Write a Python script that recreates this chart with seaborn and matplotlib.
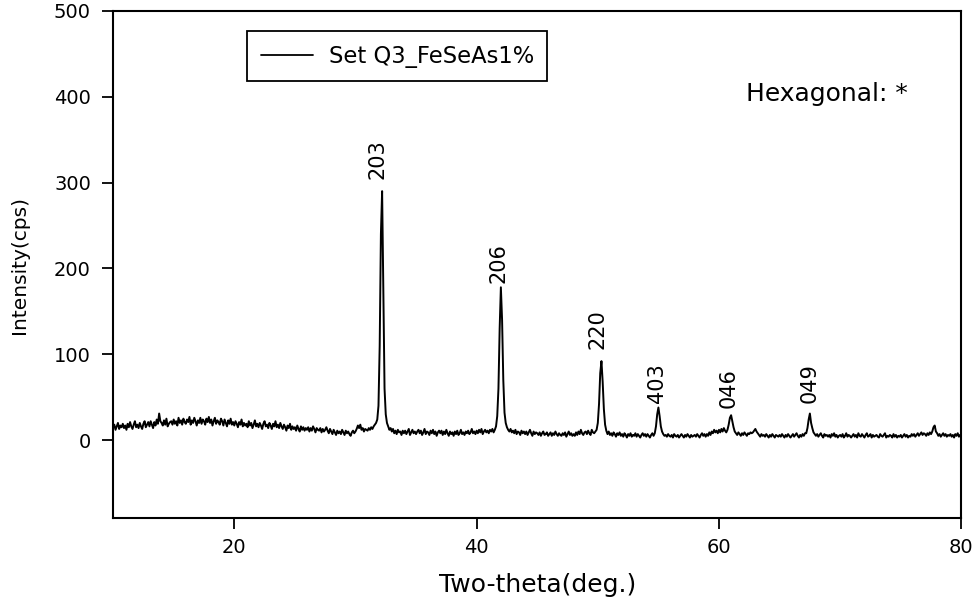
import numpy as np
import pandas as pd
import matplotlib
matplotlib.use("Agg")
import matplotlib.pyplot as plt
import seaborn as sns

# ---- data (0.1 deg steps from 10 to 80) ----
two_theta_start = 10.0
two_theta_step = 0.1
intensity_rows = [
    [14, 18, 12, 16, 20, 13, 17, 15, 19, 14],   # 10
    [17, 12, 19, 15, 21, 16, 13, 18, 22, 15],   # 11
    [18, 14, 20, 16, 13, 19, 22, 15, 18, 21],   # 12
    [16, 22, 18, 14, 21, 17, 24, 19, 31, 22],   # 13
    [20, 17, 23, 18, 25, 16, 19, 21, 22, 18],   # 14
    [24, 19, 22, 17, 26, 20, 23, 18, 25, 21],   # 15
    [19, 24, 21, 27, 18, 23, 20, 26, 22, 17],   # 16
    [23, 20, 26, 19, 24, 22, 18, 25, 21, 27],   # 17
    [20, 24, 17, 22, 26, 19, 23, 21, 18, 25],   # 18
    [22, 17, 24, 20, 16, 23, 19, 25, 18, 21],   # 19
    [17, 22, 19, 15, 21, 18, 24, 16, 20, 17],   # 20
    [19, 15, 22, 17, 20, 14, 18, 23, 16, 19],   # 21
    [15, 20, 17, 13, 19, 22, 16, 18, 14, 20],   # 22
    [17, 13, 19, 16, 22, 15, 18, 14, 20, 16],   # 23
    [13, 18, 15, 11, 17, 14, 19, 12, 16, 13],   # 24
    [15, 11, 17, 13, 10, 16, 12, 15, 11, 14],   # 25
    [12, 15, 10, 14, 11, 16, 13, 9, 14, 12],    # 26
    [11, 14, 9, 13, 10, 12, 15, 11, 8, 13],     # 27
    [10, 7, 12, 9, 6, 11, 8, 10, 7, 12],        # 28
    [9, 6, 11, 8, 10, 7, 5, 9, 11, 8],          # 29
    [10, 13, 17, 14, 18, 12, 14, 10, 13, 12],   # 30
    [11, 14, 12, 15, 13, 16, 18, 20, 24, 40],   # 31
    [110, 240, 290, 170, 60, 30, 20, 16, 12, 14],  # 32
    [10, 13, 8, 11, 7, 12, 9, 10, 6, 11],       # 33
    [8, 11, 7, 10, 13, 6, 9, 12, 8, 10],        # 34
    [7, 10, 12, 8, 11, 6, 9, 13, 7, 10],        # 35
    [9, 6, 11, 8, 12, 7, 10, 5, 9, 11],         # 36
    [8, 11, 6, 10, 7, 12, 8, 5, 10, 7],         # 37
    [9, 5, 10, 7, 11, 6, 8, 12, 7, 9],          # 38
    [6, 10, 8, 11, 7, 9, 13, 8, 10, 7],         # 39
    [11, 8, 12, 9, 13, 7, 10, 12, 9, 11],       # 40
    [8, 12, 10, 13, 9, 12, 16, 28, 60, 130],    # 41
    [178, 140, 70, 32, 20, 15, 12, 10, 13, 9],  # 42
    [11, 8, 12, 7, 10, 9, 6, 11, 8, 10],        # 43
    [7, 10, 6, 9, 12, 8, 5, 10, 7, 9],          # 44
    [8, 6, 9, 5, 8, 10, 6, 7, 9, 5],            # 45
    [7, 9, 5, 8, 6, 10, 7, 5, 8, 6],            # 46
    [5, 8, 6, 9, 4, 7, 10, 6, 8, 5],            # 47
    [7, 5, 9, 6, 10, 7, 12, 8, 6, 9],           # 48
    [10, 7, 11, 8, 6, 12, 9, 8, 10, 12],        # 49
    [20, 42, 78, 92, 68, 36, 18, 11, 7, 10],    # 50
    [6, 8, 5, 9, 7, 4, 8, 6, 9, 5],             # 51
    [7, 4, 8, 6, 3, 7, 5, 8, 4, 6],             # 52
    [5, 8, 4, 7, 5, 3, 6, 8, 5, 7],             # 53
    [4, 7, 5, 3, 6, 8, 5, 8, 16, 30],           # 54
    [38, 28, 16, 10, 7, 5, 6, 4, 7, 5],         # 55
    [4, 6, 3, 7, 5, 4, 6, 3, 5, 7],             # 56
    [5, 3, 6, 4, 7, 5, 3, 6, 4, 5],             # 57
    [6, 4, 7, 5, 3, 6, 8, 5, 7, 4],             # 58
    [7, 5, 9, 6, 10, 8, 12, 9, 11, 8],          # 59
    [12, 9, 13, 10, 14, 11, 9, 12, 18, 26],     # 60
    [29, 22, 15, 10, 8, 6, 9, 7, 5, 8],         # 61
    [6, 9, 7, 5, 8, 7, 9, 8, 9, 11],            # 62
    [13, 10, 8, 6, 4, 7, 5, 6, 4, 7],           # 63
    [5, 3, 6, 4, 7, 5, 3, 6, 5, 4],             # 64
    [6, 4, 7, 5, 3, 6, 4, 7, 5, 3],             # 65
    [5, 7, 4, 6, 8, 5, 3, 6, 4, 7],             # 66
    [5, 8, 8, 14, 24, 31, 20, 14, 9, 7],        # 67
    [5, 7, 4, 6, 8, 5, 3, 7, 5, 6],             # 68
    [4, 6, 3, 7, 5, 8, 4, 6, 3, 5],             # 69
    [6, 4, 7, 3, 5, 8, 4, 6, 5, 3],             # 70
    [5, 7, 4, 6, 3, 8, 5, 4, 7, 5],             # 71
    [3, 6, 8, 4, 5, 7, 3, 6, 4, 5],             # 72
    [6, 4, 3, 7, 5, 4, 6, 8, 3, 5],             # 73
    [4, 6, 5, 3, 7, 4, 6, 3, 5, 4],             # 74
    [6, 3, 5, 7, 4, 6, 3, 5, 4, 7],             # 75
    [5, 7, 4, 6, 8, 5, 7, 9, 6, 8],             # 76
    [7, 5, 8, 6, 9, 7, 10, 15, 17, 10],         # 77
    [8, 5, 7, 4, 6, 8, 5, 7, 4, 6],             # 78
    [5, 7, 4, 6, 3, 7, 5, 8, 4, 6],             # 79
    [5],                                        # 80
]

peak_labels = ["203", "206", "220", "403", "046", "049"]
label_x = [31.8, 41.8, 50.0, 54.9, 60.8, 67.5]
label_y = [304, 183, 106, 43, 37, 43]

series_name = "Set Q3_FeSeAs1%"
phase_note = "Hexagonal: *"
x_ticks = [20, 40, 60, 80]
y_ticks = [0, 100, 200, 300, 400, 500]

# ---- build table ----
intensity = [v for row in intensity_rows for v in row]
two_theta = two_theta_start + two_theta_step * np.arange(len(intensity))
df = pd.DataFrame({"two_theta": two_theta, "intensity": intensity})

sns.set_theme(style="ticks")
plt.rcParams["font.family"] = ["DejaVu Sans"]
plt.rcParams["text.color"] = "black"

fig = plt.figure(figsize=(9.75, 6.04), dpi=100)
ax = fig.add_axes([0.116, 0.142, 0.870, 0.840])

sns.lineplot(data=df, x="two_theta", y="intensity", ax=ax, color="black",
             linewidth=1.4, estimator=None, label=series_name)

ax.set_xlim(10, 80)
ax.set_ylim(-91, 500)
ax.set_xticks(x_ticks)
ax.set_yticks(y_ticks)
ax.tick_params(axis="both", direction="out", length=8, width=1.3,
               labelsize=14, color="black", labelcolor="black")
ax.tick_params(axis="x", pad=6)
ax.tick_params(axis="y", pad=8)
for sp in ax.spines.values():
    sp.set_visible(True)
    sp.set_color("black")
    sp.set_linewidth(1.5)

ax.set_xlabel("Two-theta(deg.)", fontsize=18, labelpad=12, color="black")
ax.set_ylabel("Intensity(cps)", fontsize=14.5, labelpad=18, color="black")

for lab, lx, ly in zip(peak_labels, label_x, label_y):
    ax.text(lx, ly, lab, rotation=90, ha="center", va="bottom",
            fontsize=15, color="black")

ax.text(62.2, 395, phase_note, ha="left", va="baseline", fontsize=18,
        color="black")

leg = ax.legend(loc="upper left", bbox_to_anchor=(0.158, 0.960),
                borderaxespad=0, fancybox=False, frameon=True,
                edgecolor="black", framealpha=1, fontsize=16.3,
                labelcolor="black",
                handlelength=2.3, borderpad=0.6, handletextpad=0.7)
leg.get_frame().set_linewidth(1.3)
leg.get_lines()[0].set_linewidth(1.3)

fig.savefig("out.png", dpi=100, facecolor="white")
